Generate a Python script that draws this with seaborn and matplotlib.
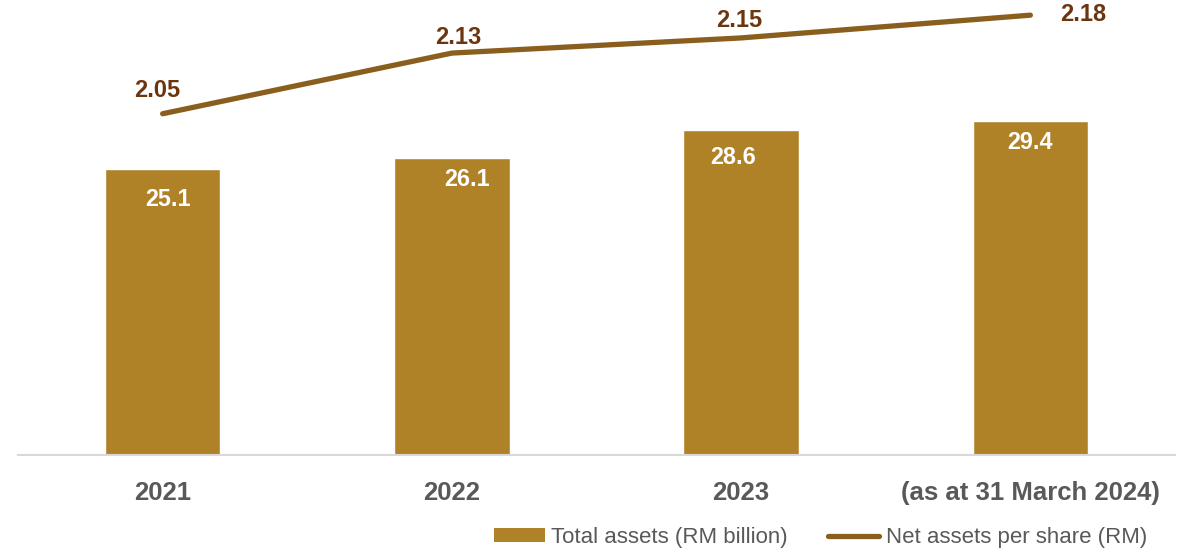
import numpy as np
import pandas as pd
import matplotlib
matplotlib.use("Agg")
import matplotlib.pyplot as plt
from matplotlib.patches import Patch
from matplotlib.lines import Line2D
import seaborn as sns

# Data
periods = ["2021", "2022", "2023", "(as at 31 March 2024)"]
total_assets = [25.1, 26.1, 28.6, 29.4]          # RM billion
nav_per_share = [2.05, 2.13, 2.15, 2.18]         # RM

BAR_COLOR = "#B08228"
LINE_COLOR = "#8A5F1E"
NAV_TEXT = "#6B3510"
GREY = "#595959"

sns.set_theme(style="white")
plt.rcParams["font.family"] = ["Liberation Sans", "DejaVu Sans"]

df = pd.DataFrame({"period": periods, "assets": total_assets, "nav": nav_per_share})
df["pos"] = np.arange(len(df))

fig = plt.figure(figsize=(11.94, 5.51), dpi=100)
ax = fig.add_axes([18 / 1194, 96 / 551, 1157 / 1194, 455 / 551])

sns.barplot(data=df, x="period", y="assets", color=BAR_COLOR, width=0.4,
            saturation=1, ax=ax)
ax.set_xlim(-0.5, len(df) - 0.5)
ax.set_ylim(0, 40)
ax.set_xlabel("")
ax.set_ylabel("")
ax.set_yticks([])
for s in ["top", "left", "right"]:
    ax.spines[s].set_visible(False)
ax.spines["bottom"].set_color("#D9D9D9")
ax.spines["bottom"].set_linewidth(1.5)
ax.tick_params(axis="x", length=0, pad=19, labelsize=18.5, labelcolor=GREY)
for t in ax.get_xticklabels():
    t.set_fontweight("bold")

# bar value labels, inside the top of each bar (offsets in points)
bar_label_offsets = [(3.6, -21.6), (10.8, -15.1), (-5.8, -20.2), (0, -15.8)]
for bar, v, (dx, dy) in zip(ax.patches, df["assets"], bar_label_offsets):
    ax.annotate(f"{v:.1f}", (bar.get_x() + bar.get_width() / 2, bar.get_height()),
                xytext=(dx, dy), textcoords="offset points", ha="center", va="center",
                color="white", fontsize=16.8, fontweight="bold")

# net assets per share on a secondary axis
ax2 = ax.twinx()
sns.lineplot(data=df, x="pos", y="nav", color=LINE_COLOR, linewidth=3.8, ax=ax2,
             solid_capstyle="round")
ax2.set_ylim(1.6, 2.2)
ax2.set_yticks([])
ax2.set_ylabel("")
ax2.set_xlabel("")
for s in ["top", "left", "right", "bottom"]:
    ax2.spines[s].set_visible(False)

nav_label_offsets = [(-3.6, 16.6), (4.3, 11.5), (-1.4, 12.2), (38, 0.7)]
for x, v, (dx, dy) in zip(df["pos"], df["nav"], nav_label_offsets):
    ax2.annotate(f"{v:.2f}", (x, v), xytext=(dx, dy), textcoords="offset points",
                 ha="center", va="center", color=NAV_TEXT, fontsize=17,
                 fontweight="bold")

handles = [
    Patch(facecolor=BAR_COLOR, edgecolor="none", label="Total assets (RM billion)"),
    Line2D([0], [0], color=LINE_COLOR, linewidth=3.8, solid_capstyle="round",
           label="Net assets per share (RM)"),
]
fig.legend(handles=handles, loc="center", bbox_to_anchor=(0.687, 0.024), ncol=2,
           frameon=False, fontsize=16, labelcolor=GREY, handlelength=2.3,
           handleheight=0.6, handletextpad=0.3, columnspacing=1.8, borderaxespad=0,
           borderpad=0)

fig.savefig("out.png", dpi=100)
